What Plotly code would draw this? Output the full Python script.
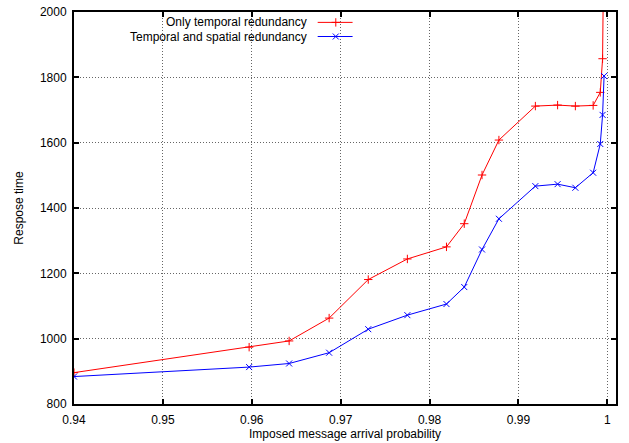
import plotly.graph_objects as go

prob = [0.94, 0.9597, 0.9642, 0.9687, 0.9731, 0.9775, 0.9819, 0.9839, 0.9859,
        0.9878, 0.9919, 0.9944, 0.9964, 0.9984, 0.9992, 0.99946, 0.99963]
temporal = [896, 974, 993, 1063, 1181, 1244, 1281, 1352, 1501,
            1608, 1712, 1715, 1712, 1714, 1754, 1857, 2300]
spatial = [884, 913, 924, 957, 1029, 1072, 1106, 1158, 1273,
           1367, 1467, 1473, 1462, 1508, 1596, 1685, 1804]
names = ["Only temporal redundancy", "Temporal and spatial redundancy"]
colors = ["#ff0000", "#0000ff"]
symbols = ["cross-thin-open", "x-thin-open"]
x_ticks = [0.94, 0.95, 0.96, 0.97, 0.98, 0.99, 1]
x_tick_text = ["0.94", "0.95", "0.96", "0.97", "0.98", "0.99", "1"]
y_ticks = [800, 1000, 1200, 1400, 1600, 1800, 2000]

font = dict(family="Liberation Sans, Arial, sans-serif", size=12, color="#000")

fig = go.Figure()
for ys, nm, c, s in zip([temporal, spatial], names, colors, symbols):
    fig.add_trace(go.Scatter(
        x=prob, y=ys, mode="lines+markers", name=nm, showlegend=False,
        line=dict(color=c, width=1),
        marker=dict(symbol=s, size=6, color=c, line=dict(color=c, width=1)),
        cliponaxis=True))

# custom legend (text right-aligned, sample on the right) on an overlay axis
leg_y = [0.9735, 0.9375]
for nm, c, s, ly in zip(names, colors, symbols, leg_y):
    fig.add_trace(go.Scatter(
        x=[0.4496, 0.514], y=[ly, ly], xaxis="x2", yaxis="y2", mode="lines",
        line=dict(color=c, width=1), showlegend=False, hoverinfo="skip"))
    fig.add_trace(go.Scatter(
        x=[0.483], y=[ly], xaxis="x2", yaxis="y2", mode="markers",
        marker=dict(symbol=s, size=6, color=c, line=dict(color=c, width=1)),
        showlegend=False, hoverinfo="skip"))
    fig.add_annotation(x=0.431, y=ly, xref="x2", yref="y2", text=nm,
                       showarrow=False, xanchor="right", yanchor="middle",
                       borderpad=0, font=font)

axis_common = dict(
    showline=True, linecolor="#000", linewidth=2, mirror="ticks",
    ticks="inside", ticklen=5, tickwidth=1.5, tickcolor="#000",
    showgrid=True, gridcolor="#666", griddash="1px,2px", gridwidth=1,
    zeroline=False, tickfont=font, automargin=False,
)

fig.update_layout(
    width=629, height=443,
    margin=dict(l=74, r=13, t=12, b=39),
    paper_bgcolor="#fff", plot_bgcolor="#fff",
    font=font,
    xaxis=dict(range=[0.94, 1.00097], tickvals=x_ticks, ticktext=x_tick_text,
               ticklabelstandoff=4,
               title=dict(text="Imposed message arrival probability",
                          font=font, standoff=3),
               **axis_common),
    yaxis=dict(range=[800, 2000], tickvals=y_ticks, ticklabelstandoff=3,
               title=dict(text="Respose time", font=font, standoff=14),
               **axis_common),
    xaxis2=dict(range=[0, 1], overlaying="x", visible=False, fixedrange=True),
    yaxis2=dict(range=[0, 1], overlaying="y", visible=False, fixedrange=True),
)

fig.write_html("out.html", config={"displayModeBar": False},
               post_script="document.body.style.margin='0';"
                           "document.body.style.overflow='hidden';")
